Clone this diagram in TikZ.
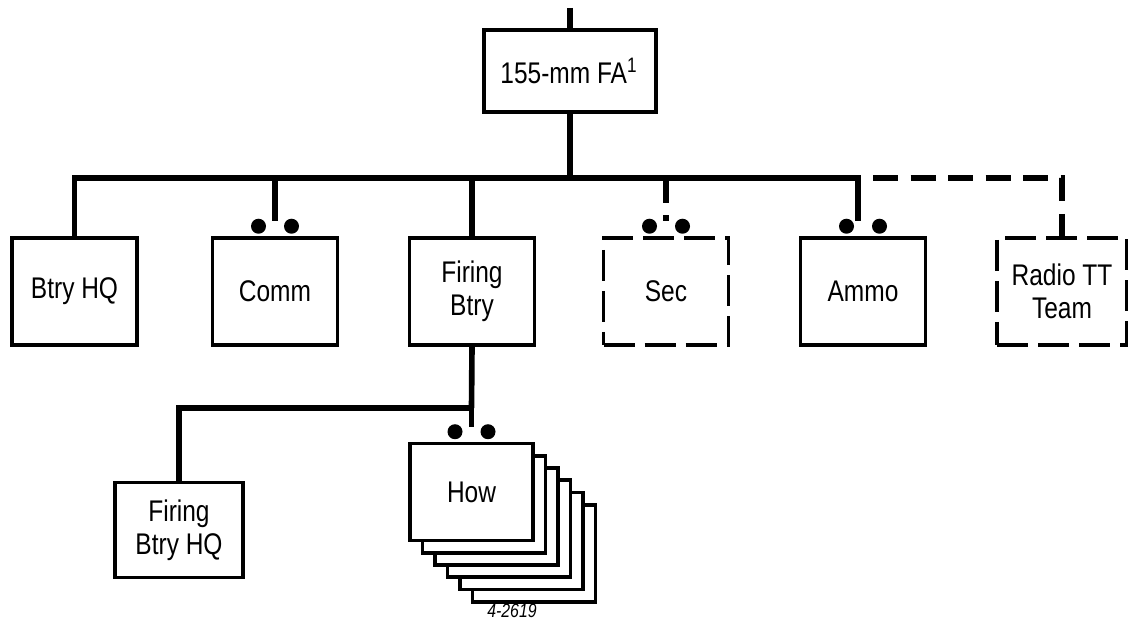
\documentclass[tikz,border=0pt]{standalone}
\usepackage{fontspec}
\setmainfont{Liberation Sans}[FakeStretch=0.82]
\usetikzlibrary{positioning}
\begin{document}
\begin{tikzpicture}[node distance=3.94cm, font=\fontsize{17}{19}\selectfont]
    % Define styles
    \tikzstyle{unit} = [rectangle, draw=black, line width=2pt, minimum width=2.5cm, minimum height=2.14cm, align=center, fill=white, inner sep=2pt]
    \tikzstyle{attached} = [unit, dash pattern=on 0.62cm off 0.2cm]
    \tikzstyle{line} = [draw, line width=3.2pt]
    \tikzstyle{dashline} = [line, dash pattern=on 0.5cm off 0.25cm]

    \useasboundingbox (0,0) rectangle (22.56,-12.42);

    % Place nodes
    \node [unit, minimum width=3.44cm, minimum height=1.64cm] (fa) at (11.4,-1.42) {155-mm FA$^{\mathrm{1}}$};
    \node [unit] (btryhq) at (1.49,-5.83) {Btry HQ};
    \node [unit, right of=btryhq, node distance=4.01cm] (comm) {Comm};
    \node [unit, right of=comm] (firing) {Firing\\Btry};
    \node [attached, right of=firing, node distance=3.88cm] (sec) {Sec};
    \node [unit, right of=sec] (ammo) {Ammo};
    \node [attached, right of=ammo, node distance=3.98cm, minimum width=2.6cm] (radio) {Radio TT\\Team};
    \node [unit, minimum width=2.56cm, minimum height=1.9cm] (firinghq) at (3.58,-10.6) {Firing\\Btry HQ};
    \foreach \i in {5,4,...,1}
        \node [unit, minimum width=2.46cm, minimum height=1.94cm, xshift=\i*0.25cm, yshift=-\i*0.245cm] (how\i) at (9.43,-9.84) {};
    \node [unit, minimum width=2.46cm, minimum height=1.94cm] (how) at (9.43,-9.84) {How};
    \node [font=\itshape\fontsize{11}{12}\selectfont, inner sep=0pt] (mark) at (10.24,-12.21) {4-2619};

    \coordinate (top) at (11.4,-0.16);
    \coordinate (bus) at (11.4,-3.56);
    \coordinate (busR) at (17.16,-3.56);
    \coordinate (subbus) at (9.43,-8.16);

    % Draw edges
    \path [line] (top) -- (fa.north);
    \path [line] (fa.south) -- (bus);
    \path [line] (btryhq.north) |- (busR) -- ([yshift=0.3cm]ammo.north -| busR);
    \path [line] (comm.north |- bus) -- ([yshift=0.3cm]comm.north);
    \path [line] (firing.north |- bus) -- (firing.north);
    \path [dashline] (sec.north |- bus) -- ([yshift=0.3cm]sec.north);
    \path [dashline] ([xshift=0.3cm]busR) -| (radio.north);
    \path [line] (firing.south) -- (subbus);
    \path [line] (subbus) -| (firinghq.north);
    \path [line] (subbus) -- ([yshift=0.3cm]how.north);

    % Dots over the boxes
    \foreach \n in {comm, sec, ammo, how} {
        \fill ([xshift=-0.33cm, yshift=0.2cm]\n.north) circle (0.15cm);
        \fill ([xshift=0.33cm, yshift=0.2cm]\n.north) circle (0.15cm);
    }
\end{tikzpicture}
\end{document}
